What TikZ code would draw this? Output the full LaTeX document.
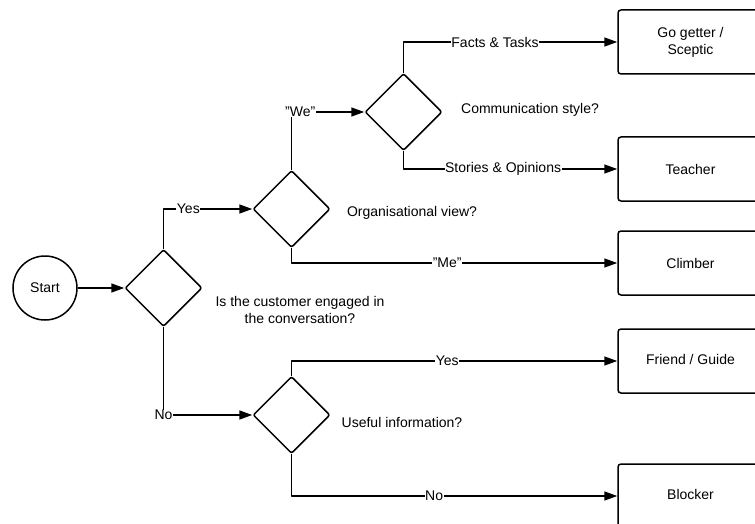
\documentclass[tikz,border=0pt]{standalone}
\usepackage{fontspec}
\setmainfont{Liberation Sans}
\usetikzlibrary{shapes.geometric,arrows.meta}
\newcommand{\dq}{\symbol{34}}
\begin{document}
\begin{tikzpicture}[x=1pt,y=-1pt,
  font=\fontsize{14}{17}\selectfont,
  line width=1.5pt,
  decision/.style={draw,shape=diamond,minimum width=77pt,minimum height=77pt,inner sep=0pt,rounded corners=2pt},
  outcome/.style={draw,rectangle,rounded corners=3pt,minimum width=145pt,minimum height=64pt,align=center,inner sep=2pt},
  startnode/.style={draw,circle,minimum size=64pt,inner sep=0pt},
  question/.style={align=center,inner sep=0pt},
  arr/.style={-{Triangle[length=13pt,width=9pt]},line join=round},
  lbl/.style={fill=white,inner sep=0.5pt}]
\useasboundingbox (0,0) rectangle (755,524);

% start and decisions
\node[startnode] (start) at (45,288) {Start};
\node[decision] (engaged) at (163.5,288) {};
\node[decision] (orgview) at (291.5,209) {};
\node[decision] (commstyle) at (403.5,112) {};
\node[decision] (useful) at (291.5,415) {};

% questions beside the decisions
\node[question] at (300,310) {Is the customer engaged in\\the conversation?};
\node[question] at (412,213) {Organisational view?};
\node[question] at (530,110) {Communication style?};
\node[question] at (402,422) {Useful information?};

% outcomes
\node[outcome] (gogetter) at (690.5,42) {Go getter /\\Sceptic};
\node[outcome] (teacher) at (690.5,169) {Teacher};
\node[outcome] (climber) at (690.5,263) {Climber};
\node[outcome] (friend) at (690.5,361) {\raisebox{3pt}{Friend / Guide}};
\node[outcome] (blocker) at (690.5,496) {\raisebox{3pt}{Blocker}};

% connectors
\draw[arr] (start) -- (engaged.west);
\draw[arr] (engaged.north) |- node[lbl,pos=0.64] {Yes} (orgview.west);
\draw[arr] (engaged.south) |- node[lbl,pos=0.5] {No} (useful.west);
\draw[arr] (orgview.north) |- node[lbl,pos=0.56] {\dq We\dq} (commstyle.west);
\draw[arr] (orgview.south) |- node[lbl,pos=0.739] {\dq Me\dq} (climber.west);
\draw[arr] (commstyle.north) |- node[lbl,pos=0.714] {Facts \& Tasks} (gogetter.west);
\draw[arr] (commstyle.south) |- node[lbl,pos=0.733] {Stories \& Opinions} (teacher.west);
\draw[arr] (useful.north) |- node[lbl,pos=0.739] {Yes} (friend.west);
\draw[arr] (useful.south) |- node[lbl,pos=0.719] {No} (blocker.west);
\end{tikzpicture}
\end{document}
